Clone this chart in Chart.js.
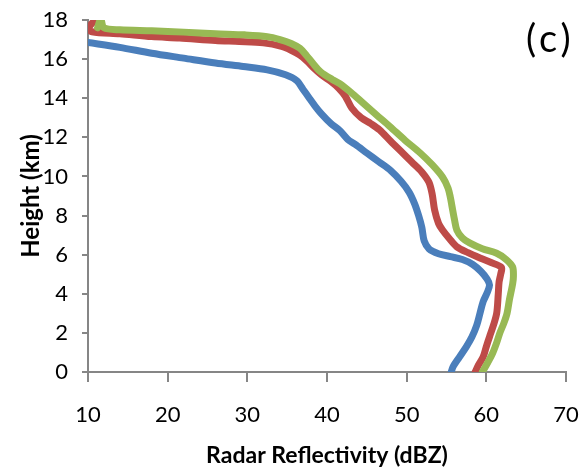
<!DOCTYPE html>
<html>
<head>
<meta charset="utf-8">
<script src="https://cdn.jsdelivr.net/npm/chart.js@4.4.1/dist/chart.umd.min.js"></script>
<style>
  html, body { margin: 0; padding: 0; background: #fff; }
  #wrap { width: 585px; height: 473px; }
</style>
</head>
<body>
<div id="wrap"><canvas id="profileChart" width="585" height="473"></canvas></div>
<script>
// reflectivity profiles, listed top to bottom
const blueDbz = [10, 14, 18, 22, 26, 29.5, 32.5, 34.8, 36.2, 37.0, 37.7, 38.5, 39.3, 40.5, 41.6, 42.6, 43.5, 45, 46.5, 48, 49.3, 50.3, 51, 51.5, 51.9, 52.2, 52.8, 54, 55.5, 57, 58.3, 59.3, 60.1, 60.4, 60.1, 59.6, 59.2, 58.8, 58.2, 57.5, 56.6, 55.8, 55.6];
const blueHeight = [16.85, 16.6, 16.3, 16.05, 15.8, 15.62, 15.45, 15.2, 14.9, 14.45, 14.05, 13.6, 13.2, 12.7, 12.35, 11.9, 11.65, 11.2, 10.75, 10.3, 9.75, 9.2, 8.6, 8.0, 7.4, 6.7, 6.3, 6.05, 5.9, 5.75, 5.5, 5.15, 4.75, 4.45, 4.05, 3.6, 3.0, 2.4, 1.8, 1.3, 0.75, 0.25, 0];

const redDbz = [11, 10.1, 10.5, 14, 18, 21.5, 26, 29, 32, 34.3, 35.5, 36.6, 37.5, 38.2, 39.3, 40.5, 41.5, 42.3, 43.1, 44.3, 45.5, 46.6, 48, 49.5, 51, 52, 52.8, 53.2, 53.5, 54.0, 54.5, 55.4, 56.3, 57.7, 59.2, 60.6, 61.9, 61.8, 61.6, 61.5, 61.3, 60.9, 60.4, 60.0, 59.6, 59.0, 58.6];
const redHeight = [18.05, 17.6, 17.4, 17.3, 17.15, 17.08, 16.95, 16.9, 16.83, 16.65, 16.45, 16.2, 15.9, 15.6, 15.2, 14.85, 14.5, 14.1, 13.5, 13.0, 12.7, 12.38, 11.8, 11.2, 10.6, 10.18, 9.7, 9.1, 8.3, 7.6, 7.26, 6.8, 6.4, 6.1, 5.83, 5.6, 5.35, 5.0, 4.6, 4.0, 3.0, 2.4, 1.8, 1.3, 0.77, 0.35, 0];

const greenDbz = [11.2, 11.6, 12.0, 14, 18, 22, 26, 29.7, 32.5, 34.1, 35.5, 36.6, 37.4, 38.2, 39.2, 40.7, 41.6, 43, 44.5, 46.2, 47.9, 49.8, 51.7, 53.2, 54.5, 55.2, 55.5, 55.7, 56.0, 56.3, 57.0, 57.9, 59.5, 61.3, 62.5, 63.3, 63.4, 63.3, 62.9, 62.6, 62.2, 61.7, 61.3, 60.8, 60.2, 59.5];
const greenHeight = [17.6, 18.05, 17.6, 17.5, 17.45, 17.38, 17.3, 17.24, 17.15, 17.0, 16.8, 16.55, 16.2, 15.8, 15.35, 14.95, 14.75, 14.3, 13.76, 13.15, 12.55, 11.85, 11.2, 10.6, 9.97, 9.4, 8.9, 8.45, 7.8, 7.26, 6.85, 6.6, 6.3, 6.07, 5.75, 5.37, 4.9, 4.5, 3.7, 3.0, 2.5, 2.0, 1.5, 0.97, 0.5, 0];

const xTicks = [10, 20, 30, 40, 50, 60, 70];
const yTicks = [0, 2, 4, 6, 8, 10, 12, 14, 16, 18];

function toPoints(xs, ys) {
  return xs.map((x, i) => ({ x: x, y: ys[i] }));
}

const axisGray = '#868686';

// panel letter in the top right corner
const panelLabel = {
  id: 'panelLabel',
  afterDraw(chart) {
    const c = chart.ctx;
    c.save();
    c.font = '38px Lato';
    c.letterSpacing = '4px';
    c.fillStyle = '#000';
    c.textAlign = 'left';
    c.textBaseline = 'middle';
    c.fillText('(c)', 526, 40);
    c.restore();
  }
};

const ctx = document.getElementById('profileChart').getContext('2d');

new Chart(ctx, {
  type: 'scatter',
  data: {
    datasets: [
      { data: toPoints(blueDbz, blueHeight), borderColor: '#4a7ebb', order: 3 },
      { data: toPoints(redDbz, redHeight), borderColor: '#be4b48', order: 2 },
      { data: toPoints(greenDbz, greenHeight), borderColor: '#98b954', order: 1 }
    ].map(ds => Object.assign(ds, {
      showLine: true,
      borderWidth: 7,
      pointRadius: 0,
      tension: 0.3,
      borderJoinStyle: 'round',
      borderCapStyle: 'round'
    }))
  },
  options: {
    responsive: false,
    animation: false,
    layout: { padding: { top: 20, right: 19, left: 0, bottom: 0 } },
    plugins: {
      legend: { display: false },
      tooltip: { enabled: false }
    },
    scales: {
      x: {
        type: 'linear',
        min: 10,
        max: 70,
        afterBuildTicks: scale => { scale.ticks = xTicks.map(v => ({ value: v })); },
        // fixed axis band; tick labels may overhang the right edge
        afterFit: scale => { scale.height = 101; scale.paddingRight = 0; },
        border: { color: axisGray, width: 2 },
        grid: { drawOnChartArea: false, tickLength: 10, color: axisGray, lineWidth: 2 },
        ticks: { padding: 20, color: '#000', font: { family: 'Lato', size: 22 } },
        title: {
          display: true,
          text: 'Radar Reflectivity (dBZ)',
          color: '#000',
          font: { family: 'Lato', size: 23, weight: 'bold' },
          padding: { top: 0, bottom: 4 }
        }
      },
      y: {
        type: 'linear',
        min: 0,
        max: 18,
        ticks: {
          stepSize: 1,
          padding: 14,
          color: '#000',
          font: { family: 'Lato', size: 22 },
          callback: v => (yTicks.includes(v) ? v : '')
        },
        afterFit: scale => { scale.width = 88; scale.paddingTop = 0; },
        border: { color: axisGray, width: 2 },
        grid: { drawOnChartArea: false, tickLength: 6, color: axisGray, lineWidth: 2 },
        title: {
          display: true,
          text: 'Height (km)',
          color: '#000',
          font: { family: 'Lato', size: 24, weight: 'bold' },
          padding: { top: 17, bottom: 0 }
        }
      }
    }
  },
  plugins: [panelLabel]
});
</script>
</body>
</html>
